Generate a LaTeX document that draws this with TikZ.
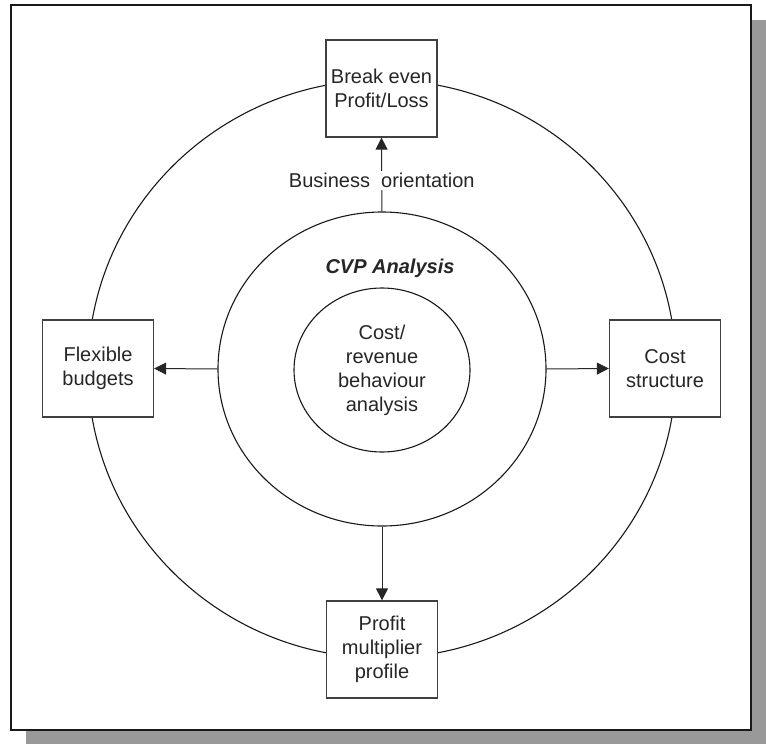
\documentclass[tikz,border=0pt]{standalone}
\usepackage{fontspec}
\setmainfont{Liberation Sans}
\usetikzlibrary{shapes.geometric,arrows.meta}
\begin{document}
\begin{tikzpicture}[x=1pt,y=-1pt,
  txt/.style={font=\fontsize{20}{24}\selectfont, text=black!85},
  topic/.style={txt, draw=black!75, line width=1.3pt, fill=white,
    minimum width=111pt, minimum height=97pt, align=center, inner sep=0pt},
  ring/.style={ellipse, draw=black!90, line width=1.1pt, inner sep=0pt},
  link/.style={draw=black!85, line width=1pt,
    -{Triangle[length=12pt,width=12pt]}},
]
\useasboundingbox (0,0) rectangle (766,744);
% shadow and frame
\fill[black!40] (26,20) rectangle (766,744);
\draw[fill=white, draw=black!90, line width=2pt] (11,5) rectangle (751,730);

% rings
\node[ring, minimum width=588pt, minimum height=578pt] (outer) at (382,369) {};
\node[ring, minimum width=328pt, minimum height=314pt] (mid) at (382,369) {};
\node[ring, minimum width=176pt, minimum height=164pt, txt, align=center] (core) at (382,370)
  {Cost/\\revenue\\behaviour\\analysis};
\node[txt, font=\fontsize{20}{24}\selectfont\bfseries\itshape] (cvp) at (390,268) {CVP Analysis};

% topic boxes on the outer ring
\node[topic] (top) at (381.5,88.5) {Break even\\Profit/Loss};
\node[topic] (left) at (98,368.5) {Flexible\\budgets};
\node[topic] (right) at (665,368.5) {Cost\\structure};
\node[topic] (bottom) at (382,649.5) {Profit\\multiplier\\profile};

% connectors
\draw[link] (mid.north) -- node[txt, fill=white, inner sep=2pt, pos=0.42] (orient) {Business\ \ orientation} (top.south);
\draw[link] (mid.west) -- (left.east);
\draw[link] (mid.east) -- (right.west);
\draw[link] (mid.south) -- (bottom.north);
\end{tikzpicture}
\end{document}
